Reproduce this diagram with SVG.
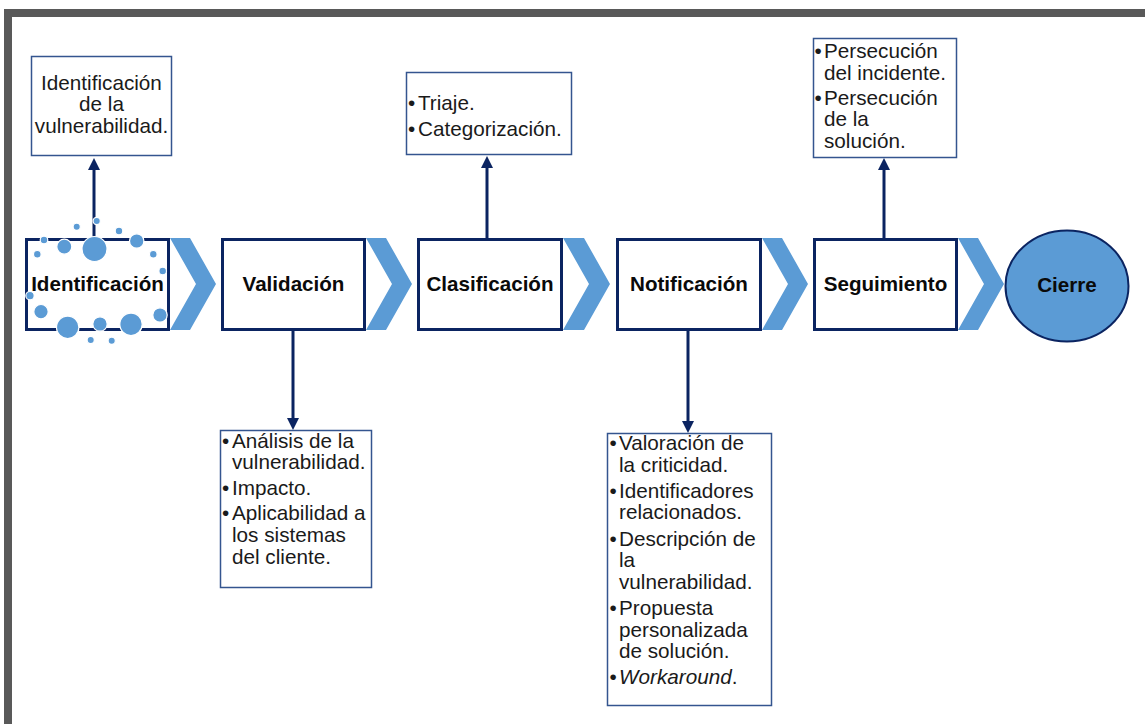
<svg xmlns="http://www.w3.org/2000/svg" width="1145" height="724" viewBox="0 0 1145 724">
  <style>
    .frame { fill: #595959; }
    .step { fill: #ffffff; stroke: #0B2461; stroke-width: 3; }
    .chev { fill: #5B9BD5; }
    .dot { fill: #5B9BD5; stroke: #ffffff; stroke-width: 1.2; }
    .note { fill: #ffffff; stroke: #34558F; stroke-width: 1.5; }
    .label { font-family: "Liberation Sans", Arial, sans-serif; font-size: 20.6px; font-weight: bold; fill: #0a0a0a; text-anchor: middle; }
    .txt { font-family: "Liberation Sans", Arial, sans-serif; font-size: 20.7px; fill: #1a1a1a; }
    .mid { text-anchor: middle; }
    .link { stroke: #0B2461; stroke-width: 3; fill: none; marker-end: url(#head); }
  </style>
  <defs>
    <marker id="head" viewBox="0 0 12 12" markerWidth="12" markerHeight="12" markerUnits="userSpaceOnUse" refX="0" refY="6" orient="auto">
      <path d="M0,0 L12,6 L0,12 Z" fill="#0B2461"/>
    </marker>
  </defs>

  <rect width="1145" height="724" fill="#ffffff"/>

  <!-- page frame: top and left bars -->
  <g id="frame">
    <rect class="frame" x="4" y="9" width="1141" height="8"/>
    <rect class="frame" x="4" y="9" width="8" height="715"/>
  </g>

  <!-- chevrons between the steps -->
  <g id="chevrons">
    <polygon class="chev" points="170,238 190,238 216,284 190,330 170,330 196,284"/>
    <polygon class="chev" points="366,238 386,238 412,284 386,330 366,330 392,284"/>
    <polygon class="chev" points="563,238 584,238 610,284 584,330 563,330 589,284"/>
    <polygon class="chev" points="762,238 782,238 808,284 782,330 762,330 788,284"/>
    <polygon class="chev" points="958,238 978,238 1004,284 978,330 958,330 984,284"/>
  </g>

  <!-- connectors -->
  <g id="connectors">
    <path class="link" d="M94,239 L94,170"/>
    <path class="link" d="M293,331 L293,418"/>
    <path class="link" d="M487,238 L487,168"/>
    <path class="link" d="M688,331 L688,421"/>
    <path class="link" d="M884,238 L884,170"/>
  </g>

  <!-- process steps -->
  <g id="step-identificacion">
    <rect class="step" x="26.5" y="239.5" width="142" height="90"/>
    <g id="bubbles">
      <circle class="dot" cx="94.5" cy="249" r="12.5"/>
      <circle class="dot" cx="64.3" cy="246.7" r="7.5"/>
      <circle class="dot" cx="136.7" cy="241" r="7.2"/>
      <circle class="dot" cx="44" cy="240" r="3.8"/>
      <circle class="dot" cx="76.7" cy="226.7" r="3.6"/>
      <circle class="dot" cx="96.7" cy="221" r="3.6"/>
      <circle class="dot" cx="119" cy="231" r="3.8"/>
      <circle class="dot" cx="37.3" cy="254.3" r="3.8"/>
      <circle class="dot" cx="153.3" cy="254.3" r="3.8"/>
      <circle class="dot" cx="162.7" cy="271" r="3.8"/>
      <circle class="dot" cx="30" cy="295.7" r="4.2"/>
      <circle class="dot" cx="41" cy="311.7" r="7.2"/>
      <circle class="dot" cx="67.7" cy="327.3" r="11.2"/>
      <circle class="dot" cx="100" cy="324" r="7.2"/>
      <circle class="dot" cx="131" cy="324.3" r="11.2"/>
      <circle class="dot" cx="160" cy="315" r="7.2"/>
      <circle class="dot" cx="90.7" cy="340" r="3.6"/>
      <circle class="dot" cx="111.7" cy="340.7" r="3.6"/>
    </g>
    <text class="label" x="97.5" y="290.5">Identificación</text>
  </g>

  <g id="step-validacion">
    <rect class="step" x="222.5" y="239.5" width="142" height="90"/>
    <text class="label" x="293.5" y="290.5">Validación</text>
  </g>

  <g id="step-clasificacion">
    <rect class="step" x="418.5" y="239.5" width="143" height="90"/>
    <text class="label" x="490" y="290.5">Clasificación</text>
  </g>

  <g id="step-notificacion">
    <rect class="step" x="617.5" y="239.5" width="143" height="90"/>
    <text class="label" x="689" y="290.5">Notificación</text>
  </g>

  <g id="step-seguimiento">
    <rect class="step" x="814.5" y="239.5" width="142" height="90"/>
    <text class="label" x="885.5" y="290.5">Seguimiento</text>
  </g>

  <g id="step-cierre">
    <ellipse cx="1067" cy="286" rx="61.5" ry="55.5" fill="#5B9BD5" stroke="#0B2461" stroke-width="2"/>
    <text class="label" x="1067" y="292">Cierre</text>
  </g>

  <!-- detail notes -->
  <g id="note-identificacion">
    <rect class="note" x="31.5" y="56.5" width="140" height="99"/>
    <text class="txt mid" x="101.5" y="89.5">Identificación</text>
    <text class="txt mid" x="101.5" y="111.2">de la</text>
    <text class="txt mid" x="101.5" y="132.9">vulnerabilidad.</text>
  </g>

  <g id="note-clasificacion">
    <rect class="note" x="406.5" y="72.5" width="165" height="82"/>
    <text class="txt" x="408" y="110">•</text><text class="txt" x="418" y="110">Triaje.</text>
    <text class="txt" x="408" y="136">•</text><text class="txt" x="418" y="136">Categorización.</text>
  </g>

  <g id="note-seguimiento">
    <rect class="note" x="813.5" y="38.5" width="143" height="119"/>
    <text class="txt" x="814.5" y="58.3">•</text><text class="txt" x="824" y="58.3">Persecución</text>
    <text class="txt" x="824" y="79.5">del incidente.</text>
    <text class="txt" x="814.5" y="105">•</text><text class="txt" x="824" y="105">Persecución</text>
    <text class="txt" x="824" y="126.3">de la</text>
    <text class="txt" x="824" y="147.8">solución.</text>
  </g>

  <g id="note-validacion">
    <rect class="note" x="220.5" y="430.5" width="151" height="157"/>
    <text class="txt" x="222" y="447.7">•</text><text class="txt" x="232" y="447.7">Análisis de la</text>
    <text class="txt" x="232" y="469.3">vulnerabilidad.</text>
    <text class="txt" x="222" y="495.3">•</text><text class="txt" x="232" y="495.3">Impacto.</text>
    <text class="txt" x="222" y="519.8">•</text><text class="txt" x="232" y="519.8">Aplicabilidad a</text>
    <text class="txt" x="232" y="541.6">los sistemas</text>
    <text class="txt" x="232" y="563.5">del cliente.</text>
  </g>

  <g id="note-notificacion">
    <rect class="note" x="607.5" y="433.5" width="164" height="272"/>
    <text class="txt" x="609.5" y="450">•</text><text class="txt" x="619" y="450">Valoración de</text>
    <text class="txt" x="619" y="471.7">la criticidad.</text>
    <text class="txt" x="609.5" y="497.7">•</text><text class="txt" x="619" y="497.7">Identificadores</text>
    <text class="txt" x="619" y="519.4">relacionados.</text>
    <text class="txt" x="609.5" y="545.6">•</text><text class="txt" x="619" y="545.6">Descripción de</text>
    <text class="txt" x="619" y="567.3">la</text>
    <text class="txt" x="619" y="589">vulnerabilidad.</text>
    <text class="txt" x="609.5" y="615">•</text><text class="txt" x="619" y="615">Propuesta</text>
    <text class="txt" x="619" y="636.7">personalizada</text>
    <text class="txt" x="619" y="658.3">de solución.</text>
    <text class="txt" x="609.5" y="683.5">•</text><text class="txt" x="619" y="683.5"><tspan font-style="italic">Workaround</tspan>.</text>
  </g>
</svg>
